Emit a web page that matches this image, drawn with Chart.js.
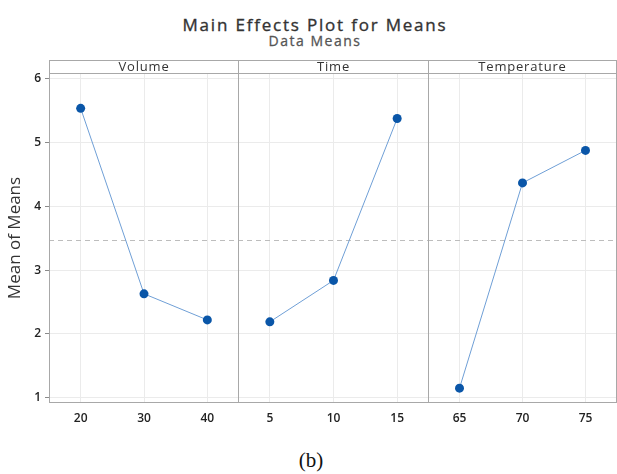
<!DOCTYPE html>
<html lang="en">
<head>
    <meta charset="UTF-8">
    <title>Main Effects Plot for Means</title>
    <style>
        body { margin: 0; background: #fff; }
        .wrap { position: relative; width: 617px; height: 474px; font-family: "Open Sans", sans-serif; }
        .wrap canvas { position: absolute; top: 56px; }
        .title { position: absolute; left: 0; width: 630px; text-align: center; color: #333; line-height: 1; }
        #t1 { top: 16px; font-size: 17px; letter-spacing: 1.8px; -webkit-text-stroke: 0.35px #333; }
        #t2 { top: 34px; font-size: 14px; color: #555; letter-spacing: 1.5px; -webkit-text-stroke: 0.3px #555; }
        #cap { position: absolute; left: 0; width: 622px; top: 448px; text-align: center;
               font-family: "Liberation Serif", serif; font-size: 21px; color: #111; }
    </style>
</head>
<body>
    <div class="wrap">
        <div class="title" id="t1">Main Effects Plot for Means</div>
        <div class="title" id="t2">Data Means</div>
        <canvas id="c1" width="239" height="371" style="left:0px"></canvas>
        <canvas id="c2" width="191" height="371" style="left:238px"></canvas>
        <canvas id="c3" width="189" height="371" style="left:428px"></canvas>
        <div id="cap">(b)</div>
    </div>

    <script src="https://cdn.jsdelivr.net/npm/chart.js"></script>
    <script>
        const factors = ['Volume', 'Time', 'Temperature'];
        const volumeLevels = [20, 30, 40];
        const volumeMeans = [5.54, 2.63, 2.22];
        const timeLevels = [5, 10, 15];
        const timeMeans = [2.19, 2.84, 5.38];
        const tempLevels = [65, 70, 75];
        const tempMeans = [1.15, 4.37, 4.88];
        const yTicks = [1, 2, 3, 4, 5, 6];
        const grandMean = 3.47;

        const tickFont = { family: 'Open Sans', size: 12, weight: '600' };

        const panelPlugin = {
            id: 'panel',
            beforeDatasetsDraw(chart, args, opts) {
                const { ctx, chartArea: a, scales } = chart;
                const y = scales.y.getPixelForValue(grandMean);
                ctx.save();
                ctx.strokeStyle = '#bdbdbd';
                ctx.lineWidth = 1;
                ctx.setLineDash([5, 4]);
                ctx.beginPath();
                ctx.moveTo(a.left, Math.round(y) + 0.5);
                ctx.lineTo(a.right, Math.round(y) + 0.5);
                ctx.stroke();
                ctx.restore();
            },
            afterDraw(chart, args, opts) {
                const { ctx, chartArea: a } = chart;
                ctx.save();
                ctx.strokeStyle = '#a8a8a8';
                ctx.lineWidth = 1;
                // strip above the panel
                ctx.fillStyle = '#fff';
                ctx.fillRect(a.left, a.top - 13, a.right - a.left, 13);
                ctx.strokeRect(a.left + 0.5, a.top - 12.5, a.right - a.left - 1, a.bottom - a.top + 12);
                ctx.beginPath();
                ctx.moveTo(a.left, a.top + 0.5);
                ctx.lineTo(a.right, a.top + 0.5);
                ctx.stroke();
                ctx.fillStyle = '#333';
                ctx.font = '500 13px "Open Sans"';
                ctx.letterSpacing = '0.8px';
                ctx.textAlign = 'center';
                ctx.textBaseline = 'middle';
                ctx.fillText(opts.label, (a.left + a.right) / 2, a.top - 6);
                ctx.restore();
            }
        };

        function makePanel(id, label, levels, means, first) {
            const step = levels[1] - levels[0];
            new Chart(document.getElementById(id), {
                type: 'line',
                data: {
                    datasets: [{
                        data: levels.map((v, i) => ({ x: v, y: means[i] })),
                        borderColor: '#6f9fd6',
                        borderWidth: 1,
                        pointRadius: 4.5,
                        pointBackgroundColor: '#0a56a8',
                        pointBorderColor: '#0a56a8',
                        pointBorderWidth: 0,
                        tension: 0
                    }]
                },
                options: {
                    responsive: false,
                    animation: false,
                    devicePixelRatio: 1,
                    layout: { autoPadding: false, padding: { top: 17, left: 0, right: 0, bottom: 0 } },
                    plugins: {
                        legend: { display: false },
                        tooltip: { enabled: false },
                        panel: { label: label }
                    },
                    scales: {
                        x: {
                            type: 'linear',
                            min: levels[0] - step / 2,
                            max: levels[levels.length - 1] + step / 2,
                            afterBuildTicks: s => { s.ticks = levels.map(v => ({ value: v })); },
                            afterFit: s => { s.height = 24; },
                            border: { display: false },
                            grid: { color: '#ebebeb', drawTicks: false },
                            ticks: { color: '#222', font: tickFont, padding: 8 }
                        },
                        y: {
                            min: 0.917,
                            max: 6.094,
                            afterBuildTicks: s => { s.ticks = yTicks.map(v => ({ value: v })); },
                            afterFit: s => { s.width = first ? 49 : 0; },
                            border: { display: false },
                            grid: {
                                color: '#ebebeb',
                                drawTicks: first,
                                tickLength: 4,
                                tickColor: '#8a8a8a'
                            },
                            ticks: { display: first, color: '#222', font: tickFont, padding: 4 },
                            title: {
                                display: first,
                                text: 'Mean of Means',
                                color: '#333',
                                font: { family: 'Open Sans', size: 17, weight: '500' },
                                padding: { top: 5, bottom: 0 }
                            }
                        }
                    }
                },
                plugins: [panelPlugin]
            });
        }

        makePanel('c1', factors[0], volumeLevels, volumeMeans, true);
        makePanel('c2', factors[1], timeLevels, timeMeans, false);
        makePanel('c3', factors[2], tempLevels, tempMeans, false);
    </script>
</body>
</html>
